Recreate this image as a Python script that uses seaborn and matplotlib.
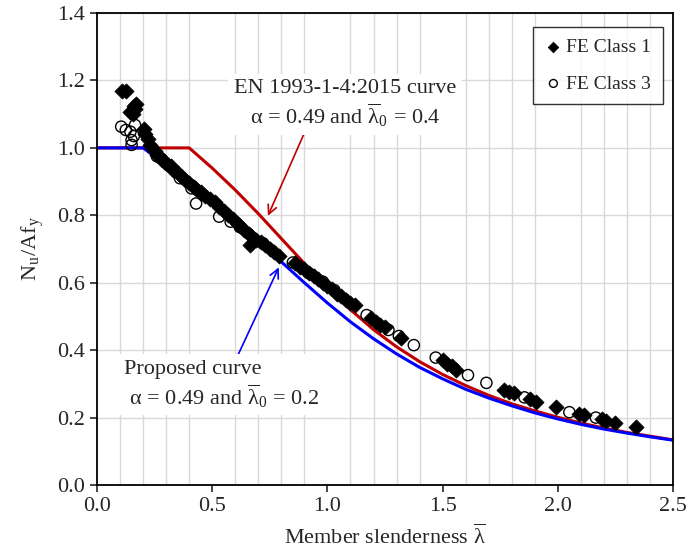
import matplotlib

matplotlib.use("Agg")
import matplotlib.pyplot as plt
import pandas as pd
import seaborn as sns
from matplotlib.ticker import MultipleLocator

# design curves (member slenderness vs. Nu/Afy)
curve_lambda = [0.0, 0.1, 0.2, 0.3, 0.4, 0.5, 0.6, 0.7, 0.8, 0.9, 1.0, 1.1, 1.2,
                1.3, 1.4, 1.5, 1.6, 1.7, 1.8, 1.9, 2.0, 2.1, 2.2, 2.3, 2.4, 2.5]
en_curve = [1.0, 1.0, 1.0, 1.0, 1.0, 0.940, 0.875, 0.805, 0.731, 0.657, 0.585, 0.520,
            0.461, 0.410, 0.366, 0.328, 0.295, 0.266, 0.241, 0.220, 0.201, 0.184,
            0.169, 0.156, 0.145, 0.134]
proposed_curve = [1.0, 1.0, 1.0, 0.949, 0.897, 0.843, 0.785, 0.725, 0.662, 0.600,
                  0.540, 0.484, 0.434, 0.389, 0.349, 0.315, 0.284, 0.258, 0.235,
                  0.214, 0.196, 0.180, 0.166, 0.154, 0.143, 0.133]

# FE results
class1_lambda = [0.11, 0.125, 0.16, 0.17, 0.145, 0.155, 0.165,
                 0.205, 0.21, 0.22, 0.23, 0.24, 0.25, 0.26, 0.27, 0.28, 0.29, 0.30,
                 0.32, 0.33, 0.35, 0.37, 0.38, 0.40, 0.42, 0.43, 0.45, 0.47, 0.49,
                 0.51, 0.53, 0.55, 0.57, 0.59, 0.61, 0.62, 0.64, 0.66, 0.67, 0.665,
                 0.69, 0.71, 0.73, 0.75, 0.77, 0.79,
                 0.86, 0.88, 0.90, 0.92, 0.94, 0.96, 0.98, 1.00, 1.02, 1.04, 1.06,
                 1.08, 1.10, 1.12,
                 1.19, 1.21, 1.23, 1.25, 1.32, 1.50, 1.52, 1.54, 1.56,
                 1.765, 1.79, 1.81, 1.88, 1.905, 1.99, 2.09, 2.115, 2.19, 2.21,
                 2.25, 2.34]
class1_nu = [1.17, 1.17, 1.125, 1.13, 1.105, 1.10, 1.115,
             1.055, 1.04, 1.025, 1.01, 1.0, 0.99, 0.98, 0.975, 0.965, 0.96, 0.955,
             0.945, 0.935, 0.925, 0.915, 0.905, 0.895, 0.885, 0.878, 0.87, 0.858,
             0.848, 0.838, 0.825, 0.812, 0.80, 0.788, 0.775, 0.768, 0.756, 0.745,
             0.738, 0.712, 0.728, 0.72, 0.712, 0.70, 0.69, 0.68,
             0.658, 0.648, 0.64, 0.63, 0.62, 0.61, 0.60, 0.59, 0.58, 0.568, 0.56,
             0.55, 0.54, 0.535,
             0.495, 0.485, 0.475, 0.468, 0.435, 0.37, 0.36, 0.352, 0.342,
             0.282, 0.277, 0.272, 0.254, 0.247, 0.23, 0.21, 0.207, 0.196, 0.19,
             0.185, 0.172]
class3_lambda = [0.105, 0.125, 0.145, 0.165, 0.15, 0.15, 0.16,
                 0.26, 0.31, 0.36, 0.41, 0.43, 0.46, 0.53, 0.58, 0.62, 0.72, 0.85,
                 0.92, 0.98, 1.03, 1.17, 1.265, 1.31, 1.375, 1.47, 1.61, 1.69,
                 1.855, 2.05, 2.165]
class3_nu = [1.063, 1.053, 1.048, 1.068, 1.023, 1.009, 1.035,
             0.975, 0.948, 0.91, 0.88, 0.835, 0.86, 0.796, 0.781, 0.765, 0.717,
             0.66, 0.628, 0.603, 0.578, 0.504, 0.46, 0.442, 0.415, 0.378, 0.326,
             0.303, 0.26, 0.216, 0.2]

sns.set_style("white")
plt.rcParams["font.family"] = ["Liberation Serif", "DejaVu Serif"]
plt.rcParams["mathtext.fontset"] = "stix"
plt.rcParams["font.size"] = 16

LAM = r"\overline{\mathregular{λ}}"

curves = pd.DataFrame({"lam": curve_lambda, "en": en_curve, "prop": proposed_curve})
fe1 = pd.DataFrame({"lam": class1_lambda, "nu": class1_nu})
fe3 = pd.DataFrame({"lam": class3_lambda, "nu": class3_nu})

fig = plt.figure(figsize=(6.91, 5.54), dpi=100)
ax = fig.add_axes([0.1404, 0.1245, 0.8336, 0.852])

sns.lineplot(data=curves, x="lam", y="en", color="#C00000", linewidth=2.2, ax=ax, zorder=2)
sns.lineplot(data=curves, x="lam", y="prop", color="#0000FF", linewidth=2.2, ax=ax, zorder=2)
sns.scatterplot(data=fe1, x="lam", y="nu", marker="D", s=60, color="black",
                edgecolor="black", linewidth=0.5, ax=ax, zorder=3, label="FE Class 1")
sns.scatterplot(data=fe3, x="lam", y="nu", marker="o", s=65, facecolor="none",
                edgecolor="black", linewidth=1.0, ax=ax, zorder=3, label="FE Class 3")

ax.set_xlim(0, 2.5)
ax.set_ylim(0, 1.4)
ax.xaxis.set_major_locator(MultipleLocator(0.5))
ax.xaxis.set_minor_locator(MultipleLocator(0.1))
ax.yaxis.set_major_locator(MultipleLocator(0.2))
ax.xaxis.set_major_formatter(lambda v, p: f"{v:.1f}")
ax.yaxis.set_major_formatter(lambda v, p: f"{v:.1f}")
ax.grid(which="minor", axis="x", color="#d9d9d9", linewidth=1.0)
ax.grid(which="major", axis="y", color="#d9d9d9", linewidth=1.0)
ax.set_axisbelow(True)
ax.tick_params(which="major", direction="out", length=5, width=1.2, labelsize=16,
               bottom=True, left=True, top=False, right=False)
ax.tick_params(which="minor", length=0)
for sp in ax.spines.values():
    sp.set_color("black")
    sp.set_linewidth(1.3)

ax.set_xlabel(rf"Member slenderness ${LAM}$", fontsize=16, labelpad=6)
ax.set_ylabel(r"N$_\mathregular{u}$/Af$_\mathregular{y}$", fontsize=16, labelpad=8)

# arrows, then labels on white boxes above them
ax.annotate("", xy=(0.737, 0.791), xytext=(0.91, 1.06),
            arrowprops=dict(arrowstyle="->", color="#C00000", lw=1.2), zorder=4)
ax.annotate("", xy=(0.794, 0.653), xytext=(0.608, 0.38),
            arrowprops=dict(arrowstyle="->", color="#0000FF", lw=1.2), zorder=4)
ax.text(1.076, 1.13, "EN 1993-1-4:2015 curve\n" rf"α = 0.49 and ${LAM}_\mathregular{{0}}$ = 0.4",
        ha="center", va="center", multialignment="center", fontsize=16, linespacing=1.15,
        bbox=dict(facecolor="white", edgecolor="none", pad=4), zorder=5)
ax.text(0.117, 0.297, "Proposed curve\n" rf" α = 0.49 and ${LAM}_\mathregular{{0}}$ = 0.2",
        ha="left", va="center", multialignment="left", fontsize=16, linespacing=1.15,
        bbox=dict(facecolor="white", edgecolor="none", pad=4), zorder=5)

leg = ax.legend(loc="upper right", bbox_to_anchor=(0.982, 0.97), borderaxespad=0,
                fontsize=14, frameon=True, fancybox=False, edgecolor="black",
                markerscale=0.7, handlelength=0.9, handletextpad=0.2, borderpad=0.6,
                labelspacing=0.95)
leg.get_frame().set_linewidth(1.0)

fig.savefig("out.png", dpi=100)
